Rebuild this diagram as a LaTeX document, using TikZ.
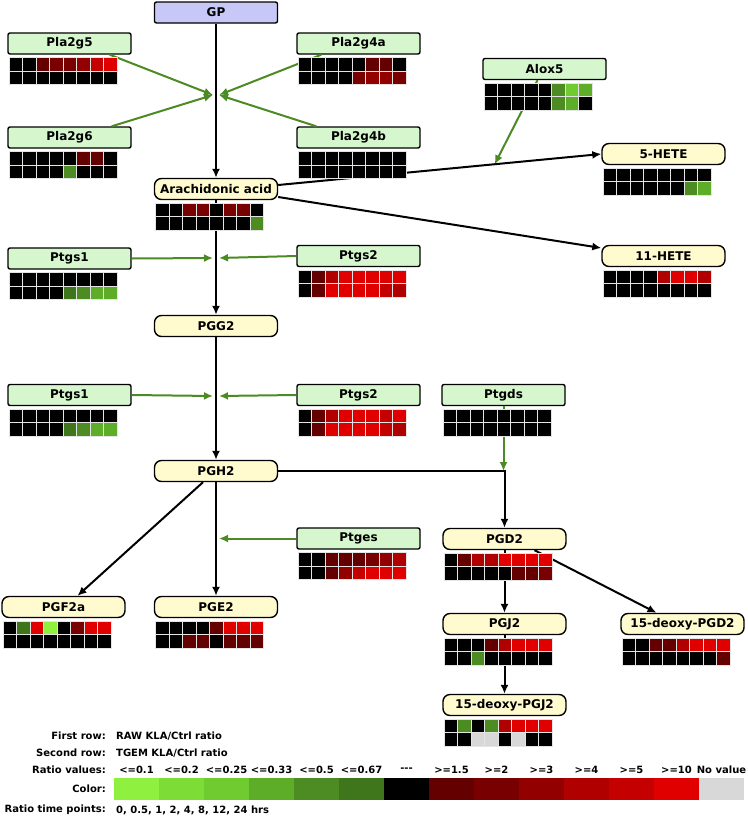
\documentclass[tikz,border=0pt]{standalone}
\usepackage{fontspec}
\setmainfont{DejaVu Sans}
\usetikzlibrary{arrows.meta,calc}

\definecolor{enzfill}{HTML}{D6F7CE}
\definecolor{metfill}{HTML}{FFFBCF}
\definecolor{gpfill}{HTML}{C8C8F8}
\definecolor{actgreen}{HTML}{4C8A24}
\definecolor{cellline}{HTML}{E4E4E4}
% ratio colours
\definecolor{g1}{HTML}{8FF03F}
\definecolor{g2}{HTML}{7DDC35}
\definecolor{g3}{HTML}{6FCB30}
\definecolor{g4}{HTML}{5EAD28}
\definecolor{g5}{HTML}{4C8C22}
\definecolor{g6}{HTML}{3F761C}
\definecolor{bk}{HTML}{000000}
\definecolor{r1}{HTML}{640000}
\definecolor{r2}{HTML}{790000}
\definecolor{r3}{HTML}{930000}
\definecolor{r4}{HTML}{B00000}
\definecolor{r5}{HTML}{C40000}
\definecolor{r6}{HTML}{E00000}
\definecolor{nv}{HTML}{D8D8D8}

% two-row heat map under a node
\newcommand{\hmap}[3]{%
  \foreach \c [count=\i from 0] in {#2}
    \filldraw[fill=\c, draw=cellline, line width=0.7pt] ($(#1.south west)+(2+13.5*\i,3)$) rectangle ++(13.5,13.5);
  \foreach \c [count=\i from 0] in {#3}
    \filldraw[fill=\c, draw=cellline, line width=0.7pt] ($(#1.south west)+(2+13.5*\i,16.5)$) rectangle ++(13.5,13.5);
}

\begin{document}
\begin{tikzpicture}[x=1pt,y=-1pt,
  enz/.style={shape=rectangle, rounded corners=2pt, line width=1.4pt, draw=black, fill=enzfill, minimum width=123pt, minimum height=21pt, inner sep=0pt, font=\fontsize{12}{14}\selectfont\bfseries},
  met/.style={enz, rounded corners=7pt, fill=metfill},
  src/.style={enz, fill=gpfill},
  rxn/.style={line width=2pt, -{Latex[length=9pt,width=8pt]}},
  act/.style={rxn, draw=actgreen, fill=actgreen},
  lab/.style={anchor=east, inner sep=0pt, font=\fontsize{10}{12}\selectfont\bfseries},
  val/.style={lab, anchor=west}]
\useasboundingbox (0,0) rectangle (747,819);

% metabolites
\node (gp) at (216,12.5) [src] {GP};
\node (aa) at (216,189) [met] {Arachidonic acid};
\node (hete5) at (663.5,154) [met] {5-HETE};
\node (hete11) at (663.5,256) [met] {11-HETE};
\node (pgg2) at (216,326) [met] {PGG2};
\node (pgh2) at (216,471) [met] {PGH2};
\node (pgd2) at (504.5,539) [met] {PGD2};
\node (pgf2a) at (63.5,607) [met] {PGF2a};
\node (pge2) at (216,607) [met] {PGE2};
\node (pgj2) at (504.5,624) [met] {PGJ2};
\node (dpgd2) at (682.5,624) [met] {15-deoxy-PGD2};
\node (dpgj2) at (504.5,705) [met] {15-deoxy-PGJ2};

% enzymes
\node (pla2g5) at (69.5,43.5) [enz] {Pla2g5};
\node (pla2g4a) at (358.5,43.5) [enz] {Pla2g4a};
\node (pla2g6) at (69.5,137.5) [enz] {Pla2g6};
\node (pla2g4b) at (358.5,137.5) [enz] {Pla2g4b};
\node (alox5) at (544.5,69) [enz] {Alox5};
\node (ptgs1a) at (69.5,258.5) [enz] {Ptgs1};
\node (ptgs2a) at (358.5,256) [enz] {Ptgs2};
\node (ptgs1b) at (69.5,395) [enz] {Ptgs1};
\node (ptgs2b) at (358.5,395) [enz] {Ptgs2};
\node (ptgds) at (503.5,395) [enz] {Ptgds};
\node (ptges) at (358.5,538.5) [enz] {Ptges};

% meeting points on the reactions
\coordinate (m1) at (216,95);
\coordinate (m2) at (216,258);
\coordinate (m3) at (216,396);
\coordinate (m4) at ($([yshift=4]aa.east)!0.67!(hete5.west)$);

% reactions
\draw[rxn] (gp) -- (aa);
\draw[rxn] (aa) -- (pgg2);
\draw[rxn] (pgg2) -- (pgh2);
\draw[rxn] (pgh2) -- (pge2);
\draw[rxn] ([yshift=4]aa.east) -- (hete5.west);
\draw[rxn] ([yshift=-8]aa.east) -- ([yshift=8]hete11.west);
\draw[rxn] ([xshift=-13]pgh2.south) -- ([xshift=14]pgf2a.north);
\draw[rxn] (pgh2.east) -| (pgd2.north);
\draw[rxn] (pgd2) -- (pgj2);
\draw[rxn] (pgj2) -- (dpgj2);
\draw[rxn] ([xshift=30]pgd2.south) -- ([xshift=-26]dpgd2.north);

% enzyme actions
\draw[act] ([xshift=-22]pla2g5.south east) -- ([xshift=-3]m1);
\draw[act] ([xshift=-20]pla2g6.north east) -- ([xshift=-3]m1);
\draw[act] ([xshift=25]pla2g4a.south west) -- ([xshift=3]m1);
\draw[act] ([xshift=20]pla2g4b.north west) -- ([xshift=3]m1);
\draw[act] ([xshift=-7]alox5.south) -- (m4);
\draw[act] (ptgs1a.east) -- ([xshift=-3]m2);
\draw[act] (ptgs2a.west) -- ([xshift=3]m2);
\draw[act] (ptgs1b.east) -- ([xshift=-3]m3);
\draw[act] (ptgs2b.west) -- ([xshift=3]m3);
\draw[act] (ptgds.south) -- (ptgds |- pgh2.east);
\draw[act] (ptges.west) -- ([xshift=3]pgh2 |- ptges.west);

% heat maps
\hmap{pla2g5}{bk,bk,r1,r2,r2,r3,r5,r6}{bk,bk,bk,bk,bk,bk,bk,bk}
\hmap{pla2g4a}{bk,bk,bk,bk,bk,r1,r1,bk}{bk,bk,bk,bk,r2,r3,r3,r2}
\hmap{pla2g6}{bk,bk,bk,bk,bk,r1,r1,bk}{bk,bk,bk,bk,g5,bk,bk,bk}
\hmap{pla2g4b}{bk,bk,bk,bk,bk,bk,bk,bk}{bk,bk,bk,bk,bk,bk,bk,bk}
\hmap{alox5}{bk,bk,bk,bk,bk,g5,g3,g4}{bk,bk,bk,bk,bk,g5,g4,bk}
\hmap{aa}{bk,bk,r2,r2,bk,r2,r2,bk}{bk,bk,bk,bk,bk,bk,bk,g5}
\hmap{hete5}{bk,bk,bk,bk,bk,bk,bk,bk}{bk,bk,bk,bk,bk,bk,g5,g4}
\hmap{hete11}{bk,bk,bk,bk,r4,r6,r6,r4}{bk,bk,bk,bk,bk,bk,bk,bk}
\hmap{ptgs1a}{bk,bk,bk,bk,bk,bk,bk,bk}{bk,bk,bk,bk,g6,g5,g4,g4}
\hmap{ptgs2a}{bk,r1,r4,r6,r6,r6,r6,r6}{bk,r1,r6,r6,r6,r6,r5,r4}
\hmap{ptgs1b}{bk,bk,bk,bk,bk,bk,bk,bk}{bk,bk,bk,bk,g6,g5,g4,g4}
\hmap{ptgs2b}{bk,r1,r4,r6,r6,r6,r5,r6}{bk,r1,r6,r6,r6,r6,r5,r4}
\hmap{ptgds}{bk,bk,bk,bk,bk,bk,bk,bk}{bk,bk,bk,bk,bk,bk,bk,bk}
\hmap{ptges}{bk,bk,r1,r1,r1,r2,r3,r4}{bk,bk,r1,r3,r5,r6,r6,r6}
\hmap{pgd2}{bk,r1,r4,r4,r6,r6,r6,r6}{bk,bk,bk,bk,bk,r1,r1,r2}
\hmap{pgf2a}{bk,g6,r6,g1,bk,r2,r6,r6}{bk,bk,bk,bk,bk,bk,bk,bk}
\hmap{pge2}{bk,bk,bk,bk,r1,r6,r6,r6}{bk,bk,r1,r1,bk,r1,r1,r1}
\hmap{pgj2}{bk,bk,bk,r1,r4,r6,r6,r6}{bk,bk,g5,bk,bk,bk,bk,bk}
\hmap{dpgd2}{bk,bk,r1,r1,r4,r6,r6,r6}{bk,bk,bk,bk,bk,bk,bk,r1}
\hmap{dpgj2}{bk,g5,bk,g5,r4,r6,r6,r6}{bk,bk,nv,nv,bk,nv,bk,bk}

% legend
\node (l1) at (106,736) [lab] {First row:};
\node (v1) at (116,736) [val] {RAW KLA/Ctrl ratio};
\node (l2) at (106,753) [lab] {Second row:};
\node (v2) at (116,753) [val] {TGEM KLA/Ctrl ratio};
\node (l3) at (106,770) [lab] {Ratio values:};
\node (l4) at (106,789) [lab] {Color:};
\node (l5) at (106,810) [lab] {Ratio time points:};
\node (v5) at (116,810) [val] {0, 0.5, 1, 2, 4, 8, 12, 24 hrs};
\foreach \c [count=\i from 0] in {g1,g2,g3,g4,g5,g6,bk,r1,r2,r3,r4,r5,r6,nv}
  \fill[\c] (114+45*\i,778) rectangle ++(45,22);
\foreach \t [count=\i from 0] in {<=0.1,<=0.2,<=0.25,<=0.33,<=0.5,<=0.67,-{}-{}-,>=1.5,>=2,>=3,>=4,>=5,>=10,No value}
  \node (rv\i) at (136.5+45*\i,770) [lab, anchor=center] {\t};
\end{tikzpicture}
\end{document}
